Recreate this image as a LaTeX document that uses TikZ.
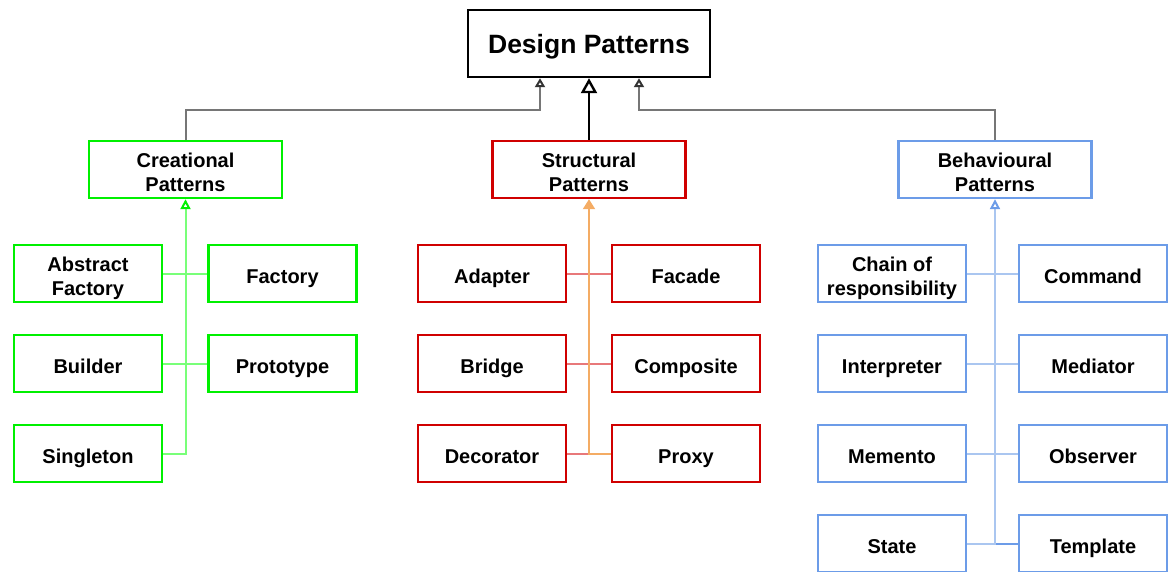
\documentclass[tikz,border=0pt]{standalone}
\usepackage{fontspec}
\setmainfont{Liberation Sans}
\usepackage{xcolor}
\definecolor{dpgreen}{RGB}{0,240,0}
\definecolor{dpgreenline}{RGB}{120,255,120}
\definecolor{dpred}{RGB}{208,0,0}
\definecolor{dpredline}{RGB}{232,120,122}
\definecolor{dporange}{RGB}{244,172,100}
\definecolor{dpblue}{RGB}{108,156,232}
\definecolor{dpblueline}{RGB}{170,198,240}
\definecolor{dpgray}{RGB}{118,118,118}
\usepackage{tikz}
\usetikzlibrary{arrows.meta, backgrounds}

\begin{document}
\begin{tikzpicture}[x=1pt, y=-1pt,
  every node/.style={font=\fontsize{20}{24}\selectfont\bfseries, align=center,
        inner sep=0pt, line width=2.4pt, fill=white,
        text height=24pt, text depth=4.5pt},
  twoline/.style={text height=48pt, text depth=4.5pt},
  root/.style={draw=black, minimum width=242pt, minimum height=67pt,
        font=\fontsize{26.5}{30}\selectfont\bfseries},
  family/.style={minimum width=193pt, minimum height=57pt, twoline},
  member/.style={minimum width=148pt, minimum height=57pt},
  uplink/.style={dpgray, line width=2pt,
        -{Triangle[open, length=9pt, width=10pt, color=black!80]}}]

  \useasboundingbox (0,0) rectangle (1170,572);

  % Root
  \node[root] (dp) at (589,43.5) {Design Patterns};

  % Families
  \node[family, draw=dpgreen] (cre) at (185.5,169.5) {Creational\\Patterns};
  \node[family, draw=dpred]   (str) at (589,169.5)   {Structural\\Patterns};
  \node[family, draw=dpblue]  (beh) at (995,169.5)   {Behavioural\\Patterns};

  % Creational members
  \node[member, twoline, draw=dpgreen] (abs) at (88,273.5) {Abstract\\Factory};
  \node[member, draw=dpgreen] (fac) at (282.5,273.5) {Factory};
  \node[member, draw=dpgreen] (bld) at (88,363.5)    {Builder};
  \node[member, draw=dpgreen] (pro) at (282.5,363.5) {Prototype};
  \node[member, draw=dpgreen] (sgl) at (88,453.5)    {Singleton};

  % Structural members
  \node[member, draw=dpred] (adp) at (492,273.5) {Adapter};
  \node[member, draw=dpred] (fcd) at (686,273.5) {Facade};
  \node[member, draw=dpred] (brg) at (492,363.5) {Bridge};
  \node[member, draw=dpred] (cmp) at (686,363.5) {Composite};
  \node[member, draw=dpred] (dec) at (492,453.5) {Decorator};
  \node[member, draw=dpred] (prx) at (686,453.5) {Proxy};

  % Behavioural members
  \node[member, twoline, draw=dpblue] (cor) at (892,273.5) {Chain of\\responsibility};
  \node[member, draw=dpblue] (cmd) at (1093,273.5) {Command};
  \node[member, draw=dpblue] (itp) at (892,363.5)  {Interpreter};
  \node[member, draw=dpblue] (med) at (1093,363.5) {Mediator};
  \node[member, draw=dpblue] (mem) at (892,453.5)  {Memento};
  \node[member, draw=dpblue] (obs) at (1093,453.5) {Observer};
  \node[member, draw=dpblue] (sta) at (892,543.5)  {State};
  \node[member, draw=dpblue] (tpl) at (1093,543.5) {Template};

  \begin{scope}[on background layer]
    % Families to root
    \draw[uplink] (cre.north) |- ([xshift=-49pt, yshift=-32pt]dp.south) -- ([xshift=-49pt]dp.south);
    \draw[uplink] (beh.north) |- ([xshift=50pt, yshift=-32pt]dp.south) -- ([xshift=50pt]dp.south);
    \draw[black, line width=2.4pt, -{Triangle[open, length=15pt, width=16pt]}] (str.north) -- (dp.south);

    % Creational tree
    \draw[dpgreenline, line width=2pt] (abs.east) -- (fac.west);
    \draw[dpgreenline, line width=2pt] (bld.east) -- (pro.west);
    \draw[dpgreenline, line width=2pt, -{Triangle[open, length=10pt, width=10pt, color=dpgreen]}] (sgl.east) -| (cre.south);

    % Structural tree
    \draw[dpredline, line width=2pt] (adp.east) -- (fcd.west);
    \draw[dpredline, line width=2pt] (brg.east) -- (cmp.west);
    \draw[dpredline, line width=2pt] (dec.east) -- (prx.west);
    \draw[dporange, line width=2pt, -{Triangle[length=10pt, width=12pt]}] (prx.west) -| (str.south);

    % Behavioural tree
    \draw[dpblueline, line width=2pt] (cor.east) -- (cmd.west);
    \draw[dpblueline, line width=2pt] (itp.east) -- (med.west);
    \draw[dpblueline, line width=2pt] (mem.east) -- (obs.west);
    \draw[dpblue, line width=2pt] (sta.east) -- (tpl.west);
    \draw[dpblueline, line width=2pt, -{Triangle[open, length=10pt, width=10pt, color=dpblue]}] (sta.east) -| (beh.south);
  \end{scope}

\end{tikzpicture}
\end{document}
